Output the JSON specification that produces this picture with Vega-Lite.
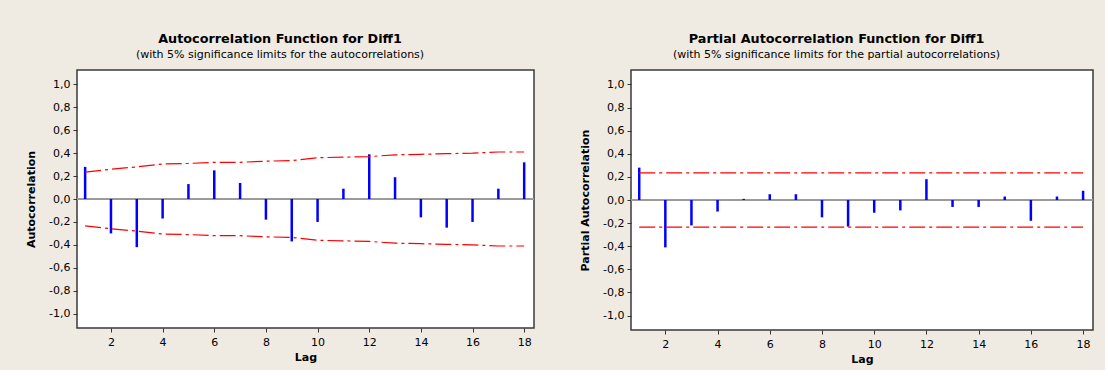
{
  "$schema": "https://vega.github.io/schema/vega-lite/v6.json",
  "background": "#EFEBE2",
  "padding": {"left": 24, "top": 32, "right": 10, "bottom": 5},
  "datasets": {
    "acf": [
      {"lag": 1, "r": 0.28, "upper": 0.234, "lower": -0.234},
      {"lag": 2, "r": -0.30, "upper": 0.26, "lower": -0.26},
      {"lag": 3, "r": -0.42, "upper": 0.28, "lower": -0.28},
      {"lag": 4, "r": -0.17, "upper": 0.305, "lower": -0.305},
      {"lag": 5, "r": 0.13, "upper": 0.31, "lower": -0.31},
      {"lag": 6, "r": 0.25, "upper": 0.32, "lower": -0.32},
      {"lag": 7, "r": 0.14, "upper": 0.32, "lower": -0.32},
      {"lag": 8, "r": -0.18, "upper": 0.33, "lower": -0.33},
      {"lag": 9, "r": -0.37, "upper": 0.335, "lower": -0.335},
      {"lag": 10, "r": -0.20, "upper": 0.36, "lower": -0.36},
      {"lag": 11, "r": 0.09, "upper": 0.365, "lower": -0.365},
      {"lag": 12, "r": 0.39, "upper": 0.37, "lower": -0.37},
      {"lag": 13, "r": 0.19, "upper": 0.385, "lower": -0.385},
      {"lag": 14, "r": -0.16, "upper": 0.39, "lower": -0.39},
      {"lag": 15, "r": -0.25, "upper": 0.395, "lower": -0.395},
      {"lag": 16, "r": -0.20, "upper": 0.40, "lower": -0.40},
      {"lag": 17, "r": 0.09, "upper": 0.41, "lower": -0.41},
      {"lag": 18, "r": 0.32, "upper": 0.41, "lower": -0.41}
    ],
    "pacf": [
      {"lag": 1, "r": 0.28, "upper": 0.234, "lower": -0.234},
      {"lag": 2, "r": -0.41, "upper": 0.234, "lower": -0.234},
      {"lag": 3, "r": -0.22, "upper": 0.234, "lower": -0.234},
      {"lag": 4, "r": -0.10, "upper": 0.234, "lower": -0.234},
      {"lag": 5, "r": 0.01, "upper": 0.234, "lower": -0.234},
      {"lag": 6, "r": 0.05, "upper": 0.234, "lower": -0.234},
      {"lag": 7, "r": 0.05, "upper": 0.234, "lower": -0.234},
      {"lag": 8, "r": -0.15, "upper": 0.234, "lower": -0.234},
      {"lag": 9, "r": -0.23, "upper": 0.234, "lower": -0.234},
      {"lag": 10, "r": -0.11, "upper": 0.234, "lower": -0.234},
      {"lag": 11, "r": -0.09, "upper": 0.234, "lower": -0.234},
      {"lag": 12, "r": 0.18, "upper": 0.234, "lower": -0.234},
      {"lag": 13, "r": -0.06, "upper": 0.234, "lower": -0.234},
      {"lag": 14, "r": -0.06, "upper": 0.234, "lower": -0.234},
      {"lag": 15, "r": 0.03, "upper": 0.234, "lower": -0.234},
      {"lag": 16, "r": -0.18, "upper": 0.234, "lower": -0.234},
      {"lag": 17, "r": 0.03, "upper": 0.234, "lower": -0.234},
      {"lag": 18, "r": 0.08, "upper": 0.234, "lower": -0.234}
    ]
  },
  "spacing": 42,
  "hconcat": [
    {
      "width": 457,
      "height": 258,
      "title": {"text": "Autocorrelation Function for Diff1", "subtitle": "(with 5% significance limits for the autocorrelations)"},
      "data": {"name": "acf"},
      "encoding": {
        "x": {"field": "lag", "type": "quantitative", "scale": {"domain": [0.685, 18.38], "nice": false, "zero": false},
              "axis": {"title": "Lag", "values": [2, 4, 6, 8, 10, 12, 14, 16, 18], "labelOverlap": false}},
        "y": {"field": "r", "type": "quantitative", "scale": {"domain": [-1.125, 1.125], "nice": false, "zero": false},
              "axis": {"title": "Autocorrelation", "labelOverlap": false, "values": [-1, -0.8, -0.6, -0.4, -0.2, 0, 0.2, 0.4, 0.6, 0.8, 1]}}
      },
      "layer": [
        {"mark": {"type": "rule", "color": "#9a9a9a", "strokeWidth": 1}, "encoding": {"x": null, "y": {"datum": 0, "type": "quantitative"}}},
        {"mark": {"type": "rule", "color": "#0000FF", "strokeWidth": 2.5}, "encoding": {"y2": {"datum": 0}}},
        {"mark": {"type": "line", "color": "#FF0000", "strokeWidth": 1.2, "strokeDash": [16, 4, 3, 4]},
         "encoding": {"y": {"field": "upper", "type": "quantitative"}}},
        {"mark": {"type": "line", "color": "#FF0000", "strokeWidth": 1.2, "strokeDash": [16, 4, 3, 4]},
         "encoding": {"y": {"field": "lower", "type": "quantitative"}}}
      ]
    },
    {
      "width": 462,
      "height": 260,
      "title": {"text": "Partial Autocorrelation Function for Diff1", "subtitle": "(with 5% significance limits for the partial autocorrelations)"},
      "data": {"name": "pacf"},
      "encoding": {
        "x": {"field": "lag", "type": "quantitative", "scale": {"domain": [0.685, 18.38], "nice": false, "zero": false},
              "axis": {"title": "Lag", "values": [2, 4, 6, 8, 10, 12, 14, 16, 18], "labelOverlap": false}},
        "y": {"field": "r", "type": "quantitative", "scale": {"domain": [-1.125, 1.125], "nice": false, "zero": false},
              "axis": {"title": "Partial Autocorrelation", "labelOverlap": false, "values": [-1, -0.8, -0.6, -0.4, -0.2, 0, 0.2, 0.4, 0.6, 0.8, 1]}}
      },
      "layer": [
        {"mark": {"type": "rule", "color": "#9a9a9a", "strokeWidth": 1}, "encoding": {"x": null, "y": {"datum": 0, "type": "quantitative"}}},
        {"mark": {"type": "rule", "color": "#0000FF", "strokeWidth": 2.5}, "encoding": {"y2": {"datum": 0}}},
        {"mark": {"type": "line", "color": "#FF0000", "strokeWidth": 1.2, "strokeDash": [16, 4, 3, 4]},
         "encoding": {"y": {"field": "upper", "type": "quantitative"}}},
        {"mark": {"type": "line", "color": "#FF0000", "strokeWidth": 1.2, "strokeDash": [16, 4, 3, 4]},
         "encoding": {"y": {"field": "lower", "type": "quantitative"}}}
      ]
    }
  ],
  "config": {
    "font": "DejaVu Sans",
    "view": {"fill": "white", "stroke": "#3a3a3a", "strokeWidth": 1.5},
    "title": {"font": "DejaVu Sans", "fontSize": 12.8, "fontWeight": "bold", "color": "black",
              "subtitleFont": "DejaVu Sans", "subtitleFontSize": 11, "subtitleColor": "black", "subtitlePadding": 3,
              "anchor": "middle", "frame": "bounds", "offset": 10},
    "axis": {"domain": false, "grid": false, "tickColor": "#333", "tickSize": 4, "labelColor": "black",
             "labelFont": "DejaVu Sans", "labelFontSize": 11, "labelPadding": 3, "labelOverlap": false,
             "titleFont": "DejaVu Sans", "titleFontSize": 11, "titleFontWeight": "bold", "titleColor": "black"},
    "axisY": {"titlePadding": 12, "labelExpr": "replace(replace(datum.label, '.', ','), '\u2212', '-')", "format": ".1f"},
    "axisX": {"titlePadding": 4, "labelPadding": 4}
  }
}
